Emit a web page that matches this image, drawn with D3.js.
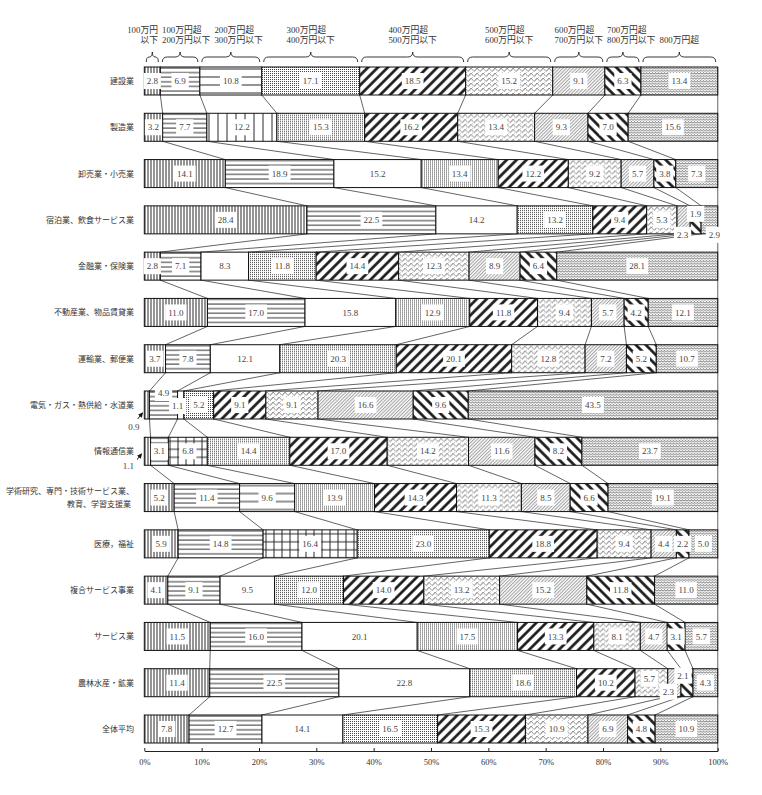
<!DOCTYPE html>
<html>
<head>
<meta charset="utf-8">
<script src="https://cdn.jsdelivr.net/npm/d3@7"></script>
<style>
  body { margin: 0; background: #fff; }
  svg { display: block; font-family: "Liberation Serif", "DejaVu Serif", "Noto Sans CJK JP", serif; }
</style>
</head>
<body>
<div class="panel"></div>
<script>
// Data

const brackets = [
    ["100万円", "以下"],
    ["100万円超", "200万円以下"],
    ["200万円超", "300万円以下"],
    ["300万円超", "400万円以下"],
    ["400万円超", "500万円以下"],
    ["500万円超", "600万円以下"],
    ["600万円超", "700万円以下"],
    ["700万円超", "800万円以下"],
    ["800万円超"]
];

const industries = [
    "建設業", "製造業", "卸売業・小売業", "宿泊業、飲食サービス業", "金融業・保険業",
    "不動産業、物品賃貸業", "運輸業、郵便業", "電気・ガス・熱供給・水道業", "情報通信業",
    "学術研究、専門・技術サービス業、|教育、学習支援業", "医療，福祉", "複合サービス事業",
    "サービス業", "農林水産・鉱業", "全体平均"
];

const construction   = [2.8, 6.9, 10.8, 17.1, 18.5, 15.2, 9.1, 6.3, 13.4];
const manufacturing  = [3.2, 7.7, 12.2, 15.3, 16.2, 13.4, 9.3, 7.0, 15.6];
const retail         = [14.1, 18.9, 15.2, 13.4, 12.2, 9.2, 5.7, 3.8, 7.3];
const hospitality    = [28.4, 22.5, 14.2, 13.2, 9.4, 5.3, 2.3, 1.9, 2.9];
const finance        = [2.8, 7.1, 8.3, 11.8, 14.4, 12.3, 8.9, 6.4, 28.1];
const realEstate     = [11.0, 17.0, 15.8, 12.9, 11.8, 9.4, 5.7, 4.2, 12.1];
const transport      = [3.7, 7.8, 12.1, 20.3, 20.1, 12.8, 7.2, 5.2, 10.7];
const utilities      = [0.9, 4.9, 1.1, 5.2, 9.1, 9.1, 16.6, 9.6, 43.5];
const infoComm       = [1.1, 3.1, 6.8, 14.4, 17.0, 14.2, 11.6, 8.2, 23.7];
const research       = [5.2, 11.4, 9.6, 13.9, 14.3, 11.3, 8.5, 6.6, 19.1];
const medical        = [5.9, 14.8, 16.4, 23.0, 18.8, 9.4, 4.4, 2.2, 5.0];
const compound       = [4.1, 9.1, 9.5, 12.0, 14.0, 13.2, 15.2, 11.8, 11.0];
const services       = [11.5, 16.0, 20.1, 17.5, 13.3, 8.1, 4.7, 3.1, 5.7];
const primary        = [11.4, 22.5, 22.8, 18.6, 10.2, 5.7, 2.3, 2.1, 4.3];
const overall        = [7.8, 12.7, 14.1, 16.5, 15.3, 10.9, 6.9, 4.8, 10.9];

const shares = [construction, manufacturing, retail, hospitality, finance, realEstate,
    transport, utilities, infoComm, research, medical, compound, services, primary, overall];

const ticks = [0, 10, 20, 30, 40, 50, 60, 70, 80, 90, 100];

// Chart

const params = { width: 762, height: 795 };

const svg = d3.select(".panel").append("svg")
    .attr("width", params.width)
    .attr("height", params.height);

const x = d3.scaleLinear().domain([0, 100]).range([144.3, 717.7]);
const y = d3.scaleBand().domain(industries).range([67, 743]).paddingInner(0.395).paddingOuter(0);

const rows = industries.map((name, i) => {
    const vals = shares[i];
    const total = d3.sum(vals);
    let c = 0;
    const segs = vals.map((v, k) => {
        const s = c;
        c += v;
        return { i, k, v, x0: s / total * 100, x1: c / total * 100 };
    });
    return { name, i, segs };
});

// patterns
const defs = svg.append("defs");

function pat(id, w, h, rot, draw) {
    const p = defs.append("pattern")
        .attr("id", id)
        .attr("patternUnits", "userSpaceOnUse")
        .attr("width", w).attr("height", h);
    if (rot) p.attr("patternTransform", `rotate(${rot})`);
    p.append("rect").attr("width", w).attr("height", h).attr("fill", "#fff");
    draw(p);
}

pat("vlines", 3, 10, 0, p => p.append("line").attr("x1", 1).attr("x2", 1).attr("y1", 0).attr("y2", 10)
    .attr("stroke", "#111").attr("stroke-width", 0.9));
pat("hlines", 10, 4.6, 0, p => p.append("line").attr("x1", 0).attr("x2", 10).attr("y1", 1).attr("y2", 1)
    .attr("stroke", "#111").attr("stroke-width", 0.9));
pat("hwide", 10, 8, 0, p => p.append("line").attr("x1", 0).attr("x2", 10).attr("y1", 2).attr("y2", 2)
    .attr("stroke", "#111").attr("stroke-width", 0.9));
pat("vwide", 9, 10, 0, p => p.append("line").attr("x1", 2).attr("x2", 2).attr("y1", 0).attr("y2", 10)
    .attr("stroke", "#111").attr("stroke-width", 0.9));
pat("grid", 8, 8, 0, p => {
    p.append("line").attr("x1", 2).attr("x2", 2).attr("y1", 0).attr("y2", 8).attr("stroke", "#111").attr("stroke-width", 0.9);
    p.append("line").attr("x1", 0).attr("x2", 8).attr("y1", 4).attr("y2", 4).attr("stroke", "#111").attr("stroke-width", 0.9);
});
pat("blank", 4, 4, 0, p => {});
pat("dots", 2, 2, 0, p => p.append("rect").attr("width", 1).attr("height", 1).attr("fill", "#444"));
pat("fwdBold", 7, 7, 45, p => p.append("line").attr("x1", 1.5).attr("x2", 1.5).attr("y1", 0).attr("y2", 7)
    .attr("stroke", "#111").attr("stroke-width", 2.6));
pat("chev", 6, 5, 0, p => {
    p.append("path").attr("d", "M0,4.5 L3,1 L6,4.5").attr("fill", "none").attr("stroke", "#555").attr("stroke-width", 0.6);
    p.append("path").attr("d", "M0,5 L5,0").attr("fill", "none").attr("stroke", "#888").attr("stroke-width", 0.5);
});
pat("fine", 2.4, 6, 45, p => p.append("line").attr("x1", 0.6).attr("x2", 0.6).attr("y1", 0).attr("y2", 6)
    .attr("stroke", "#555").attr("stroke-width", 0.65));
pat("backBold", 7, 7, -45, p => p.append("line").attr("x1", 1.5).attr("x2", 1.5).attr("y1", 0).attr("y2", 7)
    .attr("stroke", "#111").attr("stroke-width", 2.6));
pat("wave", 3, 2.6, 0, p => p.append("path").attr("d", "M0,2.2 L1.5,0.5 L3,2.2").attr("fill", "none")
    .attr("stroke", "#333").attr("stroke-width", 0.7));

const basePattern = ["vlines", "hlines", "blank", "dots", "fwdBold", "chev", "fine", "backBold", "wave"];
const patternOverride = { "0-2": "hwide", "1-2": "vwide", "8-2": "grid", "9-2": "hwide", "10-2": "grid" };

const fillOf = d => `url(#${patternOverride[d.i + "-" + d.k] || basePattern[d.k]})`;

// connectors between consecutive bars
const links = [];
rows.slice(0, -1).forEach((r, i) => {
    const next = rows[i + 1];
    for (let k = 0; k < 8; k++) {
        links.push({
            x1: x(r.segs[k].x1), y1: y(r.name) + y.bandwidth(),
            x2: x(next.segs[k].x1), y2: y(next.name)
        });
    }
});

svg.append("g").selectAll("line")
    .data(links)
    .enter().append("line")
    .attr("x1", d => d.x1).attr("y1", d => d.y1)
    .attr("x2", d => d.x2).attr("y2", d => d.y2)
    .attr("stroke", "#222").attr("stroke-width", 0.7);

// right frame line
svg.append("line")
    .attr("x1", x(100)).attr("x2", x(100))
    .attr("y1", y(industries[0])).attr("y2", 751)
    .attr("stroke", "#888").attr("stroke-width", 1.3);

// bars
const bars = svg.append("g").selectAll("g")
    .data(rows)
    .enter().append("g")
    .attr("transform", d => `translate(0,${y(d.name)})`);

bars.selectAll("rect")
    .data(d => d.segs)
    .enter().append("rect")
    .attr("x", d => x(d.x0))
    .attr("width", d => x(d.x1) - x(d.x0))
    .attr("height", y.bandwidth())
    .attr("fill", fillOf)
    .attr("stroke", "#111")
    .attr("stroke-width", 1);

// row labels
svg.append("g").selectAll("text")
    .data(rows)
    .enter().append("text")
    .attr("x", 136)
    .attr("y", d => y(d.name) + y.bandwidth() / 2)
    .attr("text-anchor", "end")
    .attr("font-family", "'Noto Sans CJK JP', sans-serif")
    .attr("font-size", 8)
    .attr("fill", "#333")
    .each(function(d) {
        const lines = d.name.split("|");
        d3.select(this).selectAll("tspan")
            .data(lines)
            .enter().append("tspan")
            .attr("x", (l, j) => 134 - j * 3)
            .attr("dy", (l, j) => j === 0 ? (3 - (lines.length - 1) * 6.5) : 13)
            .text(l => l);
    });

// value labels
const shift = {
    "3-6": [-1, 15], "3-7": [0, -6], "3-8": [5, 15],
    "7-0": [-13, 22], "7-1": [0, -12], "7-2": [-3, 1],
    "8-0": [-19, 15],
    "13-5": [-2, -4], "13-6": [-6, 9], "13-7": [-4, -7]
};
const arrows = { "7-0": [136, 421, 142.5, 413], "8-0": [135, 462, 141.5, 454] };

defs.append("marker")
    .attr("id", "arrowhead")
    .attr("viewBox", "0 0 6 6").attr("refX", 5).attr("refY", 3)
    .attr("markerWidth", 5).attr("markerHeight", 5)
    .attr("orient", "auto")
    .append("path").attr("d", "M0,0 L6,3 L0,6 Z").attr("fill", "#111");

const allSegs = rows.flatMap(r => r.segs);

svg.append("g").selectAll("line")
    .data(Object.entries(arrows))
    .enter().append("line")
    .attr("x1", d => d[1][0]).attr("y1", d => d[1][1])
    .attr("x2", d => d[1][2]).attr("y2", d => d[1][3])
    .attr("stroke", "#111").attr("stroke-width", 1)
    .attr("marker-end", "url(#arrowhead)");

const labels = svg.append("g").selectAll("g")
    .data(allSegs)
    .enter().append("g")
    .attr("transform", d => {
        const s = shift[d.i + "-" + d.k] || [0, 0];
        const cx = (x(d.x0) + x(d.x1)) / 2 + s[0];
        const cy = y(industries[d.i]) + y.bandwidth() / 2 + s[1];
        return `translate(${cx},${cy})`;
    });

labels.append("rect").attr("fill", "#fff");

labels.append("text")
    .attr("text-anchor", "middle")
    .attr("dy", "0.35em")
    .attr("font-size", 9)
    .attr("fill", "#444")
    .text(d => d3.format(".1f")(d.v));

labels.each(function(d) {
    const g = d3.select(this);
    const tw = g.select("text").node().getComputedTextLength();
    const w = tw + 6;
    g.select("rect")
        .attr("x", -w / 2).attr("y", -8)
        .attr("width", w).attr("height", 16);
});

// header braces and bracket labels
const topSegs = rows[0].segs;
const braceY = 62;

function brace(a, b) {
    const m = (a + b) / 2, rx = Math.min(5, (b - a) / 4), ry = 5;
    return `M${a},${braceY} q0,${-ry} ${rx},${-ry} H${m - rx} q${rx},0 ${rx},${-ry} ` +
        `q0,${ry} ${rx},${ry} H${b - rx} q${rx},0 ${rx},${ry}`;
}

svg.append("g").selectAll("path")
    .data(topSegs)
    .enter().append("path")
    .attr("d", d => brace(x(d.x0) + 2, x(d.x1) - 2))
    .attr("fill", "none")
    .attr("stroke", "#222")
    .attr("stroke-width", 0.9);

const head = svg.append("g")
    .attr("font-size", 8.8)
    .attr("fill", "#333");

let prevRight = 0;
topSegs.forEach((d, k) => {
    const lines = brackets[k];
    const t = head.append("text");
    lines.forEach((l, j) => {
        t.append("tspan").attr("y", lines.length === 1 ? 43 : 32.5 + j * 10.5).text(l);
    });
    const widths = t.selectAll("tspan").nodes().map(n => n.getComputedTextLength());
    const bw = d3.max(widths);
    const cx = (x(d.x0) + x(d.x1)) / 2;
    if (k === 0) {
        t.attr("text-anchor", "end").selectAll("tspan").attr("x", 158);
        prevRight = 158;
    } else {
        const left = Math.max(cx - bw / 2, prevRight + 4);
        t.selectAll("tspan").attr("x", left);
        prevRight = left + bw;
    }
});

// axis
const axis = d3.axisBottom(x)
    .tickValues(ticks)
    .tickFormat(d => d + "%")
    .tickSizeInner(-3)
    .tickSizeOuter(0)
    .tickPadding(8);

const ax = svg.append("g")
    .attr("transform", "translate(0,751)")
    .call(axis);

ax.attr("font-family", null).attr("font-size", 8.5);
ax.select(".domain").attr("stroke", "#222");
ax.selectAll(".tick line").attr("stroke", "#222");
ax.selectAll(".tick text").attr("fill", "#333");
</script>
</body>
</html>
